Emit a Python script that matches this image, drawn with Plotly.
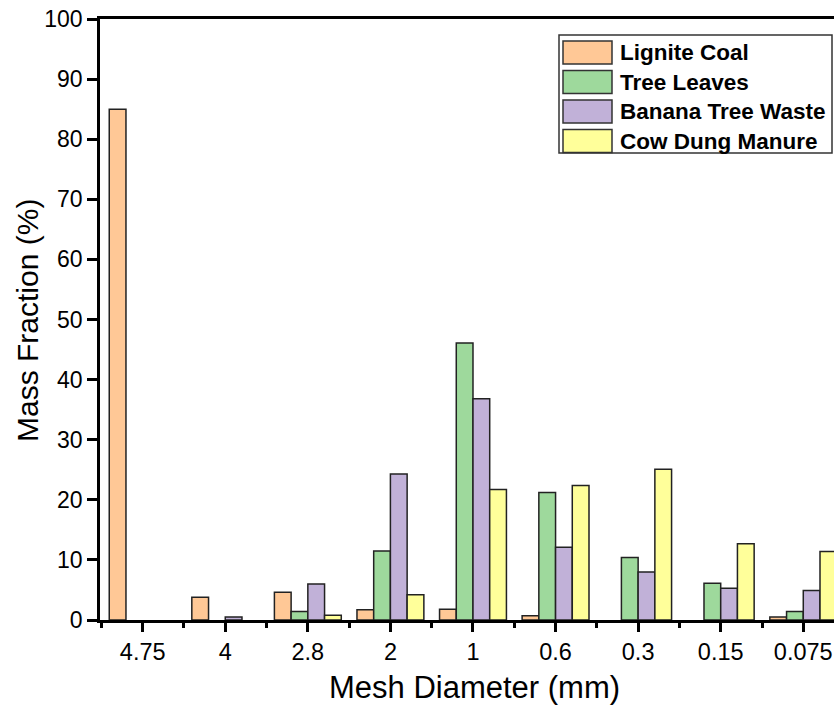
import plotly.graph_objects as go

categories = ["4.75", "4", "2.8", "2", "1", "0.6", "0.3", "0.15", "0.075"]
series_names = ["Lignite Coal", "Tree Leaves", "Banana Tree Waste", "Cow Dung Manure"]
lignite_coal = [85.0, 3.8, 4.6, 1.7, 1.8, 0.7, 0.0, 0.0, 0.5]
tree_leaves = [0.0, 0.0, 1.4, 11.5, 46.1, 21.2, 10.4, 6.1, 1.4]
banana_tree_waste = [0.0, 0.5, 6.0, 24.3, 36.8, 12.1, 8.0, 5.3, 4.9]
cow_dung_manure = [0.0, 0.0, 0.8, 4.2, 21.7, 22.4, 25.1, 12.7, 11.4]
y_ticks = [0, 10, 20, 30, 40, 50, 60, 70, 80, 90, 100]

colors = ["#FFC896", "#9ED99C", "#C1B1D8", "#FFFF9A"]
series = [lignite_coal, tree_leaves, banana_tree_waste, cow_dung_manure]
xpos = list(range(len(categories)))

fig = go.Figure()
for name, vals, col in zip(series_names, series, colors):
    fig.add_trace(go.Bar(
        x=xpos, y=[v if v > 0 else None for v in vals], name=name,
        marker=dict(color=col, line=dict(color="#222222", width=1.5)),
        showlegend=False,
    ))

font_family = "Arial"
W, H = 834.0, 707.0
L, R, T, B = 100, 0, 19, 87

def px(x):
    return (x - L) / (W - L - R)

def py(y):
    return (H - B - y) / (H - T - B)

fig.update_layout(
    width=834, height=707,
    margin=dict(l=L, r=R, t=T, b=B),
    paper_bgcolor="white", plot_bgcolor="white",
    barmode="group", bargap=0.19, bargroupgap=0,
    font=dict(family=font_family, color="black"),
)
fig.update_xaxes(
    range=[-0.517, 8.372],
    tickvals=xpos, ticktext=categories,
    ticks="outside", ticklen=9, tickwidth=2.5, tickcolor="black",
    minor=dict(tickvals=[i + 0.5 for i in range(-1, 9)], ticks="outside", ticklen=5, tickwidth=2.5, tickcolor="black"),
    showline=True, linecolor="black", linewidth=2.5, mirror=True,
    showgrid=False, zeroline=False,
    tickfont=dict(size=23.5, family=font_family),
)
fig.update_yaxes(
    range=[0, 100], tickvals=y_ticks,
    ticks="outside", ticklen=10, tickwidth=2.5, tickcolor="black",
    showline=True, linecolor="black", linewidth=2.5, mirror=False,
    showgrid=False, zeroline=False,
    tickfont=dict(size=23, family=font_family),
)

# axis titles
fig.add_annotation(xref="paper", yref="paper", x=px(474), y=py(688),
                   text="Mesh Diameter (mm)", showarrow=False,
                   xanchor="center", yanchor="middle",
                   font=dict(size=31, family=font_family, color="black"))
fig.add_annotation(xref="paper", yref="paper", x=px(27), y=py(321),
                   text="Mass Fraction (%)", showarrow=False, textangle=-90,
                   xanchor="center", yanchor="middle",
                   font=dict(size=30, family=font_family, color="black"))

# custom legend box
fig.add_shape(type="rect", xref="paper", yref="paper",
              x0=px(559), x1=px(832), y0=py(153), y1=py(35),
              line=dict(color="#333333", width=1.5), fillcolor="white", layer="above")
for i, (name, col) in enumerate(zip(series_names, colors)):
    top = 41 + i * 29.5
    fig.add_shape(type="rect", xref="paper", yref="paper",
                  x0=px(563), x1=px(612), y0=py(top + 23), y1=py(top),
                  line=dict(color="#333333", width=1.5), fillcolor=col, layer="above")
    fig.add_annotation(xref="paper", yref="paper", x=px(618), y=py(top + 11.5),
                       text="<b>" + name + "</b>", showarrow=False,
                       xanchor="left", yanchor="middle",
                       font=dict(size=22.5, family=font_family, color="black"))

fig.write_html("out.html", config={"displayModeBar": False},
               post_script="document.body.style.margin='0';document.body.style.overflow='hidden';")
